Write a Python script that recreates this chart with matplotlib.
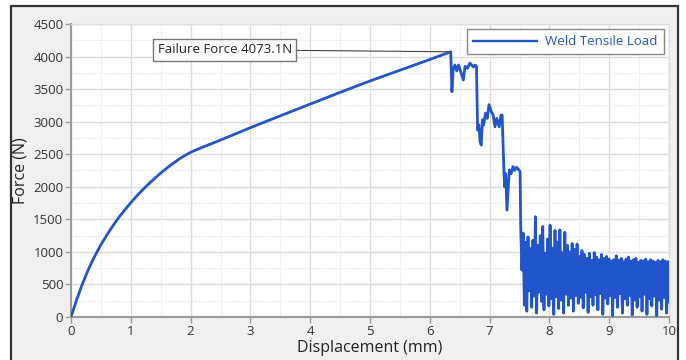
import numpy as np
import matplotlib
matplotlib.use("Agg")
import matplotlib.pyplot as plt
from matplotlib.patches import Rectangle
from matplotlib.ticker import MultipleLocator

plt.rcParams['font.family'] = ['Open Sans', 'DejaVu Sans']

# ---- data ----
rise_x = [0, 0.1, 0.2, 0.3, 0.4, 0.5, 0.6, 0.7, 0.8, 0.9, 1.0, 1.1, 1.2, 1.3, 1.4,
          1.5, 1.6, 1.7, 1.8, 1.9, 2.0, 2.1, 2.2, 2.35, 2.5, 2.75, 3.0, 3.5, 4.0,
          4.5, 5.0, 5.5, 6.0, 6.35]
rise_f = [0, 280, 530, 750, 940, 1110, 1260, 1400, 1530, 1645, 1755, 1860, 1955, 2045,
          2130, 2210, 2285, 2355, 2420, 2478, 2528, 2570, 2608, 2662, 2718, 2812, 2908,
          3090, 3270, 3450, 3625, 3790, 3955, 4073.1]

fail_x = [6.37, 6.39, 6.42, 6.45, 6.48, 6.52, 6.56, 6.59, 6.63, 6.67, 6.70, 6.73, 6.76,
          6.78, 6.80, 6.82, 6.84, 6.86, 6.88, 6.90, 6.93, 6.96, 6.99, 7.03, 7.06, 7.09,
          7.12, 7.16, 7.19, 7.21, 7.23, 7.25, 7.27, 7.29, 7.31, 7.33, 7.36, 7.39, 7.42,
          7.45, 7.48, 7.51, 7.52]
fail_f = [3460, 3800, 3870, 3780, 3870, 3760, 3640, 3850, 3820, 3900, 3870, 3840, 3870,
          3850, 2870, 2950, 2700, 2640, 3030, 2950, 3130, 3050, 3260, 3150, 3100, 2920,
          3050, 2920, 3100, 3100, 2500, 2000, 2200, 1640, 1950, 2260, 2200, 2310, 2250,
          2300, 2270, 2230, 1400]

noise_start, noise_end = 7.54, 10.0
noise_f = [720, 1290, 180, 1150, 90, 1230, 400, 1050, 150, 1180, 320, 1540, 60, 1100,
           380, 1250, 240, 1390, 110, 980, 350, 1200, 170, 1410,
           280, 1060, 40, 1330, 310, 1150, 130, 1340, 260, 990, 60, 1300, 350, 1100,
           180, 1000, 290, 1130, 90, 1040, 330, 1120, 210, 930,
           300, 1020, 140, 960, 380, 900, 70, 980, 310, 870, 180, 990, 340, 920, 110,
           880, 360, 960, 40, 900, 290, 930, 200, 890,
           330, 860, 20, 880, 300, 940, 150, 870, 360, 900, 60, 850, 280, 890, 180,
           920, 330, 860, 30, 880, 260, 900, 150, 840,
           310, 870, 90, 860, 350, 890, 40, 850, 280, 880, 170, 860, 320, 840, 20,
           870, 260, 850, 120, 880, 300, 860, 60, 850, 230]

peak_x, peak_f = 6.35, 4073.1
series_label = "Weld Tensile Load"
annot_text = "Failure Force 4073.1N"

x_ticks = list(range(0, 11))
y_ticks = list(range(0, 4501, 500))

# ---- assemble series ----
noise_x = np.linspace(noise_start, noise_end, len(noise_f))
disp = np.concatenate([rise_x, fail_x, noise_x])
force = np.concatenate([rise_f, fail_f, noise_f])

W, H = 686, 360
fig = plt.figure(figsize=(W / 100, H / 100), dpi=100, facecolor='white')

# outer panel with dark border
fig.patches.append(Rectangle((11 / W, -0.05), (678 - 11) / W, (360 - 6) / H + 0.05,
                             transform=fig.transFigure, facecolor='#f0f0f0',
                             edgecolor='#333333', linewidth=1.6, zorder=-10))

ax = fig.add_axes([71 / W, (H - 317) / H, (669 - 71) / W, (317 - 24) / H])
ax.set_zorder(1)
ax.set_facecolor('white')

line_color = '#2255cc'
ax.plot(disp, force, color=line_color, linewidth=2.0, solid_joinstyle='round',
        label=series_label, zorder=3)

ax.set_xlim(0, 10)
ax.set_ylim(0, 4500)
ax.set_xticks(x_ticks)
ax.set_yticks(y_ticks)
ax.xaxis.set_minor_locator(MultipleLocator(0.5))
ax.yaxis.set_minor_locator(MultipleLocator(250))
ax.grid(True, which='major', color='#dcdcdc', linewidth=1.0, zorder=0)
ax.grid(True, which='minor', color='#ececec', linewidth=0.8, linestyle=(0, (2, 1)), zorder=0)
ax.set_axisbelow(True)

for s in ['top', 'right']:
    ax.spines[s].set_color('#dcdcdc')
    ax.spines[s].set_linewidth(1.0)
for s in ['left', 'bottom']:
    ax.spines[s].set_color('#9a9a9a')
    ax.spines[s].set_linewidth(1.5)

ax.tick_params(which='major', direction='out', length=4, width=1, color='#9a9a9a',
               labelsize=9.5, labelcolor='#333333', pad=1.5)
ax.tick_params(which='minor', length=0)

ax.set_xlabel("Displacement (mm)", fontsize=11.5, color='#222222', labelpad=1.5)
ax.set_ylabel("Force (N)", fontsize=11.5, color='#222222', labelpad=3)

ax.annotate(annot_text, xy=(peak_x, peak_f), xytext=(2.57, 4105),
            ha='center', va='center', fontsize=9.5, color='#222222',
            bbox=dict(boxstyle='square,pad=0.35', facecolor='white', edgecolor='#777777',
                      linewidth=1.0),
            arrowprops=dict(arrowstyle='-', color='#444444', linewidth=0.8,
                            shrinkA=0, shrinkB=0), zorder=4)

leg = ax.legend(loc='upper right', fontsize=9.5, frameon=True, fancybox=False,
                handlelength=4.9, borderaxespad=0.4, borderpad=0.45,
                handletextpad=0.6, labelcolor=line_color)
leg.get_frame().set_edgecolor('#888888')
leg.get_frame().set_linewidth(1.0)
leg.get_frame().set_alpha(1)
for h in leg.get_lines():
    h.set_linewidth(1.7)

fig.savefig("out.png", dpi=100, facecolor=fig.get_facecolor())
